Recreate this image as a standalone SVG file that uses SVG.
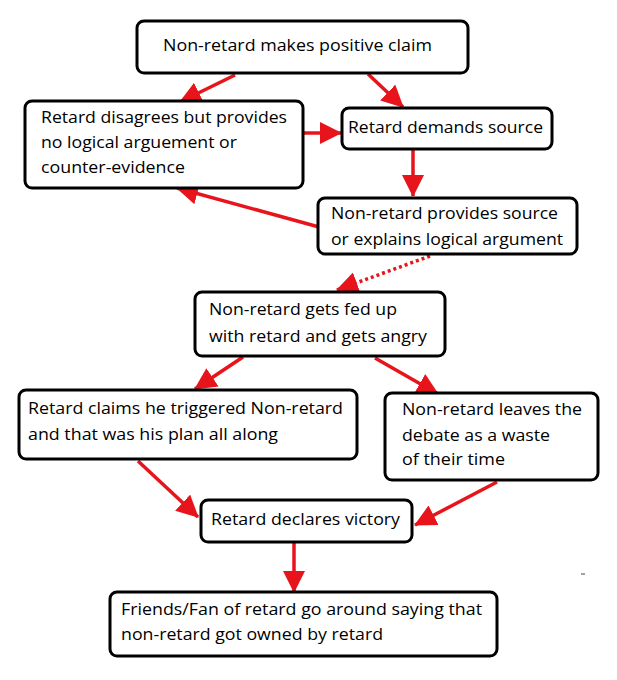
<svg xmlns="http://www.w3.org/2000/svg" width="617" height="680" viewBox="0 0 617 680">
<style>
.box{fill:#fff;stroke:#000;stroke-width:3}
.t{font-family:"Open Sans","Noto Sans",sans-serif;font-size:17px;fill:#000}
.c{stroke:#e8141b;stroke-width:3.5;fill:none}
</style>
<defs>
<marker id="ah" markerUnits="userSpaceOnUse" markerWidth="22" markerHeight="22" viewBox="0 0 22 22" refX="21" refY="11" orient="auto">
<path d="M0,0 L22,11 L0,22 z" fill="#e8141b"/>
</marker>
</defs>
<rect width="617" height="680" fill="#fff"/>
<g id="connectors">
<line class="c" x1="235" y1="75" x2="180" y2="102" marker-end="url(#ah)"/>
<line class="c" x1="368" y1="74" x2="403" y2="107" marker-end="url(#ah)"/>
<line class="c" x1="303" y1="133" x2="341" y2="133" marker-end="url(#ah)"/>
<line class="c" x1="413" y1="150" x2="413" y2="196" marker-end="url(#ah)"/>
<line class="c" x1="319" y1="227" x2="177" y2="188" marker-end="url(#ah)"/>
<line class="c" x1="430" y1="256" x2="337" y2="290" stroke-dasharray="3,3" marker-end="url(#ah)"/>
<line class="c" x1="243" y1="357" x2="195" y2="389" marker-end="url(#ah)"/>
<line class="c" x1="375" y1="358" x2="438" y2="394" marker-end="url(#ah)"/>
<line class="c" x1="138" y1="461" x2="198" y2="517" marker-end="url(#ah)"/>
<line class="c" x1="497" y1="482" x2="415" y2="525" marker-end="url(#ah)"/>
<line class="c" x1="294" y1="543" x2="294" y2="592" marker-end="url(#ah)"/>
</g>
<g id="n1"><rect class="box" x="137" y="21" width="331" height="52" rx="7"/>
<text class="t" x="163" y="51" textLength="269" lengthAdjust="spacingAndGlyphs">Non-retard makes positive claim</text></g>
<g id="n2"><rect class="box" x="25" y="101" width="278" height="87" rx="7"/>
<text class="t" x="41" y="123" textLength="246" lengthAdjust="spacingAndGlyphs">Retard disagrees but provides</text>
<text class="t" x="41" y="148" textLength="196" lengthAdjust="spacingAndGlyphs">no logical arguement or</text>
<text class="t" x="41" y="173" textLength="144" lengthAdjust="spacingAndGlyphs">counter-evidence</text></g>
<g id="n3"><rect class="box" x="342" y="108" width="210" height="41" rx="7"/>
<text class="t" x="348" y="133" textLength="195" lengthAdjust="spacingAndGlyphs">Retard demands source</text></g>
<g id="n4"><rect class="box" x="318" y="198" width="259" height="56" rx="7"/>
<text class="t" x="331" y="219" textLength="227" lengthAdjust="spacingAndGlyphs">Non-retard provides source</text>
<text class="t" x="331" y="245" textLength="232" lengthAdjust="spacingAndGlyphs">or explains logical argument</text></g>
<g id="n5"><rect class="box" x="195" y="292" width="250" height="64" rx="7"/>
<text class="t" x="209" y="315" textLength="188" lengthAdjust="spacingAndGlyphs">Non-retard gets fed up</text>
<text class="t" x="209" y="342" textLength="218" lengthAdjust="spacingAndGlyphs">with retard and gets angry</text></g>
<g id="n6"><rect class="box" x="19" y="390" width="338" height="69" rx="7"/>
<text class="t" x="28" y="414" textLength="315" lengthAdjust="spacingAndGlyphs">Retard claims he triggered Non-retard</text>
<text class="t" x="28" y="440" textLength="250" lengthAdjust="spacingAndGlyphs">and that was his plan all along</text></g>
<g id="n7"><rect class="box" x="385" y="393" width="213" height="87" rx="7"/>
<text class="t" x="402" y="415" textLength="180" lengthAdjust="spacingAndGlyphs">Non-retard leaves the</text>
<text class="t" x="402" y="441" textLength="148" lengthAdjust="spacingAndGlyphs">debate as a waste</text>
<text class="t" x="402" y="465" textLength="103" lengthAdjust="spacingAndGlyphs">of their time</text></g>
<g id="n8"><rect class="box" x="201" y="500" width="211" height="42" rx="7"/>
<text class="t" x="211" y="525" textLength="189" lengthAdjust="spacingAndGlyphs">Retard declares victory</text></g>
<g id="n9"><rect class="box" x="110" y="592" width="387" height="64" rx="7"/>
<text class="t" x="121" y="615" textLength="361" lengthAdjust="spacingAndGlyphs">Friends/Fan of retard go around saying that</text>
<text class="t" x="121" y="640" textLength="262" lengthAdjust="spacingAndGlyphs">non-retard got owned by retard</text></g>
<line x1="581" y1="574" x2="585" y2="574" stroke="#444" stroke-width="1"/>
</svg>
